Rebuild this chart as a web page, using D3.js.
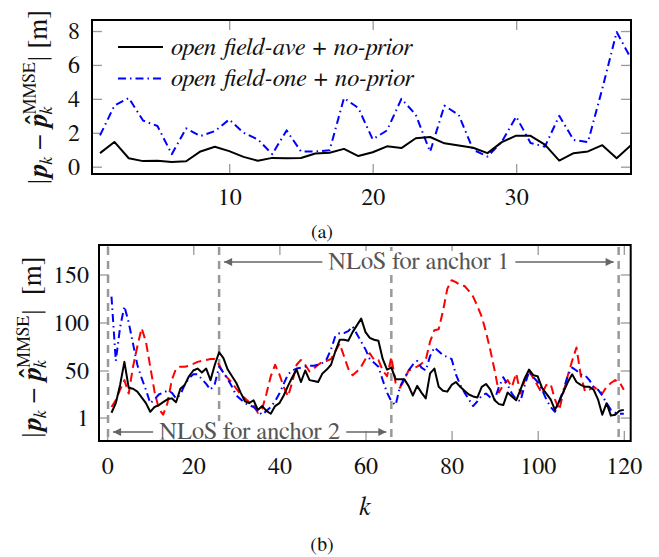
<!DOCTYPE html>
<html>
<head>
<meta charset="utf-8">
<script src="https://cdn.jsdelivr.net/npm/d3@7"></script>
<style>
  body { margin: 0; background: #fff; }
  svg { display: block; }
</style>
</head>
<body>
<svg id="chart" width="659" height="557" font-family="FreeSerif"></svg>
<script>
// ---- data: top panel (a), k = 1..38
let stepsA = d3.range(1, 39);
let aveNoPrior = [0.8,1.46,0.5,0.33,0.35,0.28,0.32,0.9,1.18,0.92,0.58,0.35,0.52,0.5,0.51,0.78,0.82,1.05,0.63,0.85,1.2,1.1,1.68,1.75,1.38,1.25,1.12,0.8,1.45,1.83,1.82,1.3,0.36,0.8,0.9,1.27,0.5,1.27];
let oneNoPrior = [1.85,3.6,4.05,2.72,2.4,0.74,2.26,1.81,2.1,2.78,2.0,1.61,0.74,2.14,0.9,0.9,0.97,4.05,3.46,1.61,2.14,4.0,3.07,0.88,3.6,3.05,1.0,0.6,1.48,2.95,1.4,1.18,3.0,1.58,1.45,4.6,7.94,6.38];
let legendA = ['open field-ave + no-prior', 'open field-one + no-prior'];
let xTicksA = [10, 20, 30];
let yTicksA = [0, 2, 4, 6, 8];

// ---- data: bottom panel (b), k = 1..120
let stepsB = d3.range(1, 121);
let errBlack = [6,16,35,59,32,31,28,22,16,7,12,14,17,20,21,17,31,35,44,50,52,48,52,40,56,69,63,51,44,37,27,18,16,19,9,13,8,5,13,16,24,34,43,51,38,50,40,39,38,47,51,56,70,82,82,81,90,97,104,90,84,82,81,62,51,53,41,41,41,34,24,34,27,21,47,52,33,29,28,35,38,33,29,25,23,22,33,36,30,19,15,14,27,23,19,30,42,51,45,44,32,26,20,9,18,28,38,46,38,35,33,33,30,20,4,16,3,4,8,9];
let errBlue = [127,60,95,117,100,78,56,42,30,16,20,25,27,29,27,21,25,35,42,46,46,41,36,30,36,54,48,41,33,24,20,16,14,12,8,4,8,12,18,26,36,46,50,52,53,54,55,55,56,58,62,72,86,89,89,91,96,88,80,72,62,58,54,40,27,18,14,33,42,50,56,60,53,50,65,74,70,66,64,62,46,35,27,20,13,18,24,26,22,20,33,43,35,26,20,18,35,49,43,38,30,20,12,7,18,30,45,53,50,46,45,40,33,30,24,16,9,6,5,5];
let errRed = [12,19,30,40,26,54,75,94,80,54,28,10,4,16,40,52,54,54,55,57,59,60,61,62,62,56,47,42,37,31,25,21,17,14,6,10,26,44,56,46,33,23,38,56,61,56,49,52,56,59,60,62,70,78,65,52,45,49,54,62,68,61,61,50,44,64,37,32,40,50,52,54,57,61,80,92,93,112,135,144,142,139,138,133,127,117,106,90,71,50,27,35,40,33,47,26,40,49,42,34,26,35,36,20,9,28,45,60,74,45,28,30,33,30,26,33,37,40,38,30];
let xTicksB = [0, 20, 40, 60, 80, 100, 120];
let yTicksB = [1, 50, 100, 150];
let nlosMarks = [0.2, 26, 66, 118.8];
let nlosText = ['NLoS for anchor 1', 'NLoS for anchor 2'];

const svg = d3.select('#chart');
const FONT = 'FreeSerif';
const FS = 24;
const tickGrey = '#9a9a9a';

let defs = svg.append('defs');
defs.append('marker').attr('id', 'ahead')
  .attr('viewBox', '0 0 10 10').attr('refX', 10).attr('refY', 5)
  .attr('markerWidth', 10).attr('markerHeight', 8).attr('markerUnits', 'userSpaceOnUse')
  .attr('orient', 'auto-start-reverse')
  .append('path').attr('d', 'M0,0 L10,5 L0,10 Z').attr('fill', '#666');

let drawFrame = (id, x, y, xt, yt, xPad, yPad) => {
  let [x0, x1] = x.range();
  let [y0, y1] = y.range();
  defs.append('clipPath').attr('id', id)
    .append('rect').attr('x', x0).attr('y', y1).attr('width', x1 - x0).attr('height', y0 - y1);

  let styleAxis = g => {
    g.attr('font-family', FONT).attr('font-size', FS);
    g.select('.domain').remove();
    g.selectAll('.tick line').attr('stroke', tickGrey).attr('stroke-width', 1.3);
    g.selectAll('.tick text').attr('fill', '#111');
  };
  svg.append('g').attr('transform', `translate(0,${y0})`)
    .call(d3.axisBottom(x).tickValues(xt).tickSize(-10).tickPadding(xPad)).call(styleAxis);
  svg.append('g').attr('transform', `translate(0,${y1})`)
    .call(d3.axisTop(x).tickValues(xt).tickSize(-10).tickFormat('')).call(styleAxis);
  svg.append('g').attr('transform', `translate(${x0},0)`)
    .call(d3.axisLeft(y).tickValues(yt).tickSize(-10).tickPadding(yPad)).call(styleAxis);
  svg.append('g').attr('transform', `translate(${x1},0)`)
    .call(d3.axisRight(y).tickValues(yt).tickSize(-10).tickFormat('')).call(styleAxis);
};

let drawBorder = (x, y) => {
  let [x0, x1] = x.range();
  let [y0, y1] = y.range();
  svg.append('rect').attr('x', x0).attr('y', y1).attr('width', x1 - x0).attr('height', y0 - y1)
    .attr('fill', 'none').attr('stroke', '#000').attr('stroke-width', 2);
};

let drawSeries = (clip, x, y, ks, vals, color, dash) => {
  let line = d3.line().x((d, i) => x(ks[i])).y(d => y(d));
  svg.append('path').datum(vals)
    .attr('clip-path', `url(#${clip})`)
    .attr('d', line)
    .attr('fill', 'none').attr('stroke', color).attr('stroke-width', 2)
    .attr('stroke-linejoin', 'round')
    .attr('stroke-dasharray', dash);
};

// rotated y label: |p_k - p^_k^MMSE| [m]
let yLabel = (cx, cy, gap) => {
  const LF = 27;
  let g = svg.append('g').attr('transform', `translate(${cx},${cy}) rotate(-90)`);
  let inner = g.append('g');
  let x = 0;
  let put = (txt, o) => {
    let t = inner.append('text').attr('x', x).attr('y', o.dy || 0)
      .attr('font-family', FONT)
      .attr('font-size', o.fs || LF)
      .attr('font-style', o.it ? 'italic' : 'normal')
      .attr('font-weight', o.b ? 'bold' : 'normal')
      .attr('fill', '#111')
      .text(txt);
    return t.node().getComputedTextLength();
  };
  x += put('|', {}) + 1;
  x += put('p', { it: true, b: true });
  x += put('k', { it: true, fs: 18, dy: 5 });
  x += 7;
  x += put('\u2212', {}) + 7;
  let pw = put('p', { it: true, b: true });
  inner.append('text').attr('x', x + pw * 0.6).attr('y', -3).attr('text-anchor', 'middle')
    .attr('font-family', FONT).attr('font-size', LF).attr('font-weight', 'bold')
    .attr('fill', '#111').text('\u02C6');
  x += pw;
  let w1 = put('MMSE', { fs: 18, dy: -12 });
  let w2 = put('k', { it: true, fs: 18, dy: 5 });
  x += Math.max(w1, w2) + 1;
  x += put('|', {}) + gap;
  x += put('[m]', {});
  inner.attr('transform', `translate(${-x / 2},0)`);
};

// ---------- panel (a)
let xA = d3.scaleLinear().domain([0.44, 38]).range([92, 631]);
let yA = d3.scaleLinear().domain([-0.43, 8.65]).range([174, 20]);
drawFrame('clipA', xA, yA, xTicksA, yTicksA, 14, 12);
drawSeries('clipA', xA, yA, stepsA, oneNoPrior, '#0000ff', '8,4,1.5,4');
drawSeries('clipA', xA, yA, stepsA, aveNoPrior, '#000', null);
drawBorder(xA, yA);

let legend = svg.append('g');
[['#000', null], ['#0000ff', '8,4,1.5,4']].forEach((s, i) => {
  let ly = 47 + i * 31.5;
  legend.append('line').attr('x1', 118).attr('x2', 163).attr('y1', ly).attr('y2', ly)
    .attr('stroke', s[0]).attr('stroke-width', 2).attr('stroke-dasharray', s[1]);
  legend.append('text').attr('x', 171).attr('y', ly + 7.5)
    .attr('font-family', FONT).attr('font-size', 24.5).attr('font-style', 'italic')
    .attr('fill', '#111').text(legendA[i]);
});
yLabel(47, 97, 7);
svg.append('text').attr('x', 322).attr('y', 238).attr('text-anchor', 'middle')
  .attr('font-family', FONT).attr('font-size', 20).attr('fill', '#111').text('(a)');

// ---------- panel (b)
let xB = d3.scaleLinear().domain([-1.9, 121.6]).range([99, 630.7]);
let yB = d3.scaleLinear().domain([-23.4, 180.7]).range([441, 245]);
drawFrame('clipB', xB, yB, xTicksB, yTicksB, 16, 10);

// NLoS marker lines
svg.append('g').selectAll('line').data(nlosMarks).enter().append('line')
  .attr('x1', d => xB(d)).attr('x2', d => xB(d))
  .attr('y1', yB.range()[1] + 2).attr('y2', yB.range()[0] - 2)
  .attr('stroke', '#999').attr('stroke-width', 2.5).attr('stroke-dasharray', '8,6');

drawSeries('clipB', xB, yB, stepsB, errRed, '#ff0000', '9,5');
drawSeries('clipB', xB, yB, stepsB, errBlue, '#0000ff', '8,4,1.5,4');
drawSeries('clipB', xB, yB, stepsB, errBlack, '#000', null);

let nlosArrow = (a, b, yy, label) => {
  let x1 = xB(a) + 5, x2 = xB(b) - 5;
  svg.append('line').attr('x1', x1).attr('x2', x2).attr('y1', yy).attr('y2', yy)
    .attr('stroke', '#666').attr('stroke-width', 1.4)
    .attr('marker-start', 'url(#ahead)').attr('marker-end', 'url(#ahead)');
  let t = svg.append('text').attr('x', (x1 + x2) / 2).attr('y', yy + 7)
    .attr('text-anchor', 'middle').attr('font-family', FONT).attr('font-size', 24.5)
    .attr('fill', '#555').text(label);
  let bb = t.node().getBBox();
  svg.insert('rect', () => t.node()).attr('x', bb.x - 6).attr('y', yy - 11)
    .attr('width', bb.width + 12).attr('height', 21).attr('fill', '#fff');
};
nlosArrow(nlosMarks[1], nlosMarks[3], 262, nlosText[0]);
nlosArrow(nlosMarks[0], nlosMarks[2], 432, nlosText[1]);

drawBorder(xB, yB);
yLabel(41, 347, 14);
svg.append('text').attr('x', 365).attr('y', 515).attr('text-anchor', 'middle')
  .attr('font-family', FONT).attr('font-size', 26).attr('font-style', 'italic')
  .attr('fill', '#111').text('k');
svg.append('text').attr('x', 322).attr('y', 551).attr('text-anchor', 'middle')
  .attr('font-family', FONT).attr('font-size', 20).attr('fill', '#111').text('(b)');
</script>
</body>
</html>
